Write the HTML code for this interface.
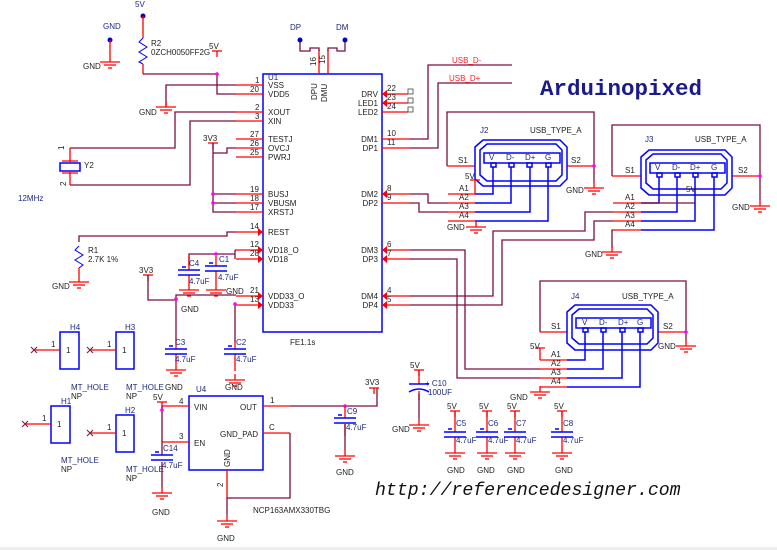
<!DOCTYPE html>
<html><head><meta charset="utf-8"><style>
html,body{margin:0;padding:0;background:#fff;}
svg{display:block;font-family:"Liberation Sans",sans-serif;}
.w{stroke:#7a1040;fill:none;stroke-width:1.3}
.r{stroke:#ff0000;fill:none;stroke-width:1.3}
.b{stroke:#0000ff;fill:none;stroke-width:1.5}
text{font-size:8px;fill:#222}
.bl{fill:#1c2a80}
.rt{fill:#ff2020}
</style></head><body>
<svg width="777" height="550" viewBox="0 0 777 550">
<defs>
<g id="g"><line x1="0" y1="0" x2="0" y2="6" class="r"/><line x1="-10" y1="6" x2="10" y2="6" class="r"/><line x1="-6" y1="9" x2="6" y2="9" class="r"/><line x1="-2" y1="12" x2="2" y2="12" class="r"/></g>
<g id="c"><line x1="-11" y1="0" x2="11" y2="0" class="b"/><line x1="-11" y1="5" x2="11" y2="5" class="b"/><line x1="-7" y1="-3" x2="-3" y2="-3" class="b" stroke-width="1"/></g>
<g id="t"><line x1="-5" y1="0" x2="5" y2="0" class="r"/><line x1="0" y1="0" x2="0" y2="6" class="r"/></g>
</defs>

<!-- U1 -->
<rect x="263" y="74" width="119" height="258" class="b"/>
<g class="r">
<path d="M236 85H263M236 94H263M236 112H263M236 121H263M236 139H263M236 148H263M236 157H263M236 194H263M236 203H263M236 212H263M236 232H263M236 250H263M236 259H263M236 296H263M236 305H263"/>
<path d="M382 94H408M382 103H408M382 112H408M382 139H410M382 148H410M382 194H410M382 203H410M382 250H410M382 259H410M382 296H410M382 305H410"/>
<path d="M319 50V74M328 50V74"/>
</g>
<g fill="#ff0000">
<path d="M263 232l-5 -4v8zM263 250l-5 -4v8zM263 259l-5 -4v8zM263 296l-5 -4v8zM263 305l-5 -4v8z"/>
<path d="M382 94l5 -4v8zM382 103l5 -4v8zM382 194l5 -4v8zM382 250l5 -4v8zM382 259l5 -4v8zM382 296l5 -4v8zM382 305l5 -4v8z"/>
</g>
<g fill="none" stroke="#444" stroke-width="0.8"><rect x="408" y="89" width="5" height="5"/><rect x="408" y="98" width="5" height="5"/><rect x="408" y="107" width="5" height="5"/></g>
<g>
<text x="268" y="88">VSS</text><text x="268" y="97">VDD5</text><text x="268" y="115">XOUT</text><text x="268" y="124">XIN</text>
<text x="268" y="142">TESTJ</text><text x="268" y="151">OVCJ</text><text x="268" y="160">PWRJ</text>
<text x="268" y="197">BUSJ</text><text x="268" y="206">VBUSM</text><text x="268" y="215">XRSTJ</text>
<text x="268" y="235">REST</text><text x="268" y="253">VD18_O</text><text x="268" y="262">VD18</text>
<text x="268" y="299">VDD33_O</text><text x="268" y="308">VDD33</text>
<text x="378" y="97" text-anchor="end">DRV</text><text x="378" y="106" text-anchor="end">LED1</text><text x="378" y="115" text-anchor="end">LED2</text>
<text x="378" y="142" text-anchor="end">DM1</text><text x="378" y="151" text-anchor="end">DP1</text>
<text x="378" y="197" text-anchor="end">DM2</text><text x="378" y="206" text-anchor="end">DP2</text>
<text x="378" y="253" text-anchor="end">DM3</text><text x="378" y="262" text-anchor="end">DP3</text>
<text x="378" y="299" text-anchor="end">DM4</text><text x="378" y="308" text-anchor="end">DP4</text>
<text x="255" y="83">1</text><text x="250" y="92">20</text><text x="255" y="110">2</text><text x="255" y="119">3</text>
<text x="250" y="137">27</text><text x="250" y="146">26</text><text x="250" y="155">25</text>
<text x="250" y="192">19</text><text x="250" y="201">18</text><text x="250" y="210">17</text>
<text x="250" y="229">14</text><text x="250" y="247">12</text><text x="250" y="256">28</text>
<text x="250" y="293">21</text><text x="250" y="302">13</text>
<text x="387" y="91">22</text><text x="387" y="100">23</text><text x="387" y="109">24</text>
<text x="387" y="136">10</text><text x="387" y="145">11</text><text x="387" y="191">8</text><text x="387" y="200">9</text>
<text x="387" y="247">6</text><text x="387" y="256">7</text><text x="387" y="293">4</text><text x="387" y="302">5</text>
<text x="268" y="80" class="bl">U1</text><text x="290" y="345">FE1.1s</text>
<text transform="translate(317,100) rotate(-90)" font-size="8">DPU</text>
<text transform="translate(327,102) rotate(-90)" font-size="8">DMU</text>
<text transform="translate(316,66) rotate(-90)">16</text><text transform="translate(325,64) rotate(-90)">15</text>
</g>
<g class="w"><path d="M300 42V51H310V48H319V51M345 42V51H337V48H328V51"/></g>
<circle cx="300" cy="40" r="2.5" fill="#0000cc"/><circle cx="345" cy="40" r="2.5" fill="#0000cc"/>
<text x="290" y="30" class="bl">DP</text><text x="336" y="30" class="bl">DM</text>

<circle cx="143" cy="16" r="2.5" fill="#0000cc"/><text x="135" y="7" class="bl">5V</text>
<path class="r" d="M143 16V38M143 64V74"/>
<path stroke="#0000ff" fill="none" d="M143 38l-4 4 8 5 -8 5 8 5 -8 5 4 2"/>
<text x="151" y="46">R2</text><text x="151" y="55">0ZCH0050FF2G</text>
<circle cx="110" cy="40" r="2.5" fill="#0000cc"/><text x="103" y="29" class="bl">GND</text>
<path class="r" d="M110 40V56"/><use href="#g" x="110" y="56"/><text x="83" y="69">GND</text>
<path class="w" d="M143 74H217V94H236"/><use href="#t" x="217" y="51"/><text x="209" y="49">5V</text>
<circle cx="217" cy="74" r="1.8" fill="#ff00ff"/>
<path class="w" d="M236 85H166V107"/><use href="#g" x="166" y="101"/><text x="139" y="115">GND</text>
<path class="w" d="M236 112H175V148H70M236 121H190V185H70"/>
<path class="r" d="M70 148V162M70 172V185M62 161H78M62 173H78"/>
<rect x="60" y="163" width="20" height="8" class="b"/>
<text x="84" y="168">Y2</text><text x="18" y="201" class="bl">12MHz</text>
<text transform="translate(64,150) rotate(-90)" font-size="7">1</text><text transform="translate(66,186) rotate(-90)" font-size="7">2</text>
<use href="#t" x="213" y="143"/><text x="203" y="141">3V3</text>
<path class="w" d="M213 143V212H236M213 194H236M213 203H236M213 153H227V148H236"/>
<circle cx="213" cy="194" r="1.8" fill="#ff00ff"/><circle cx="213" cy="203" r="1.8" fill="#ff00ff"/>
<path class="w" d="M236 232H227V236H79V242"/>
<path stroke="#0000ff" fill="none" d="M79 246l-4 4 8 5 -8 5 8 5 -4 3"/>
<path class="r" d="M79 268V276"/><use href="#g" x="79" y="276"/><text x="88" y="253">R1</text><text x="88" y="262">2.7K 1%</text><text x="52" y="289">GND</text>
<path class="w" d="M189 266V254H235V250M235 254V259M235 250H236"/>
<circle cx="216" cy="254" r="1.8" fill="#ff00ff"/>
<path class="r" d="M189 256V270M189 275V284M216 256V266M216 271V284"/>
<use href="#c" x="189" y="270"/><use href="#c" x="216" y="266"/>
<use href="#g" x="189" y="284"/><use href="#g" x="216" y="284"/>
<text x="189" y="266" class="bl">C4</text><text x="219" y="262" class="bl">C1</text>
<text x="189" y="284" class="bl">4.7uF</text><text x="218" y="280" class="bl">4.7uF</text>
<text x="226" y="294">GND</text>
<use href="#t" x="148" y="275"/><text x="139" y="273">3V3</text>
<path class="w" d="M148 275V300H176V295H236M176 300V342M235 305V342"/>
<circle cx="176" cy="299" r="1.8" fill="#ff00ff"/><circle cx="235" cy="304" r="1.8" fill="#ff00ff"/>
<text x="181" y="312">GND</text>
<path class="r" d="M176 342V349M176 354V364M235 342V349M235 354V371"/>
<use href="#c" x="176" y="349"/><use href="#c" x="235" y="349"/>
<use href="#g" x="176" y="364"/><use href="#g" x="235" y="374"/>
<text x="175" y="345" class="bl">C3</text><text x="236" y="345" class="bl">C2</text>
<text x="175" y="362" class="bl">4.7uF</text><text x="236" y="362" class="bl">4.7uF</text>
<text x="165" y="390">GND</text><text x="225" y="390">GND</text>
<g class="b"><rect x="60" y="332" width="19" height="37"/><rect x="116" y="332" width="18" height="37"/><rect x="51" y="406" width="19" height="37"/><rect x="116" y="415" width="18" height="37"/></g>
<path class="r" d="M35 350H60M91 350H116M26 424H51M91 433H116"/>
<g stroke="#7a1040" stroke-width="1"><path d="M31 347l6 6M37 347l-6 6M87 347l6 6M93 347l-6 6M22 421l6 6M28 421l-6 6M87 430l6 6M93 430l-6 6"/></g>
<g>
<text x="66" y="353">1</text><text x="122" y="353">1</text><text x="57" y="427">1</text><text x="122" y="436">1</text>
<text x="51" y="347">1</text><text x="107" y="347">1</text><text x="42" y="421">1</text><text x="107" y="430">1</text>
<text x="70" y="330" class="bl">H4</text><text x="125" y="330" class="bl">H3</text><text x="61" y="404" class="bl">H1</text><text x="125" y="413" class="bl">H2</text>
<text x="71" y="390" class="bl">MT_HOLE</text><text x="71" y="399">NP</text>
<text x="126" y="390" class="bl">MT_HOLE</text><text x="126" y="399">NP</text>
<text x="61" y="463" class="bl">MT_HOLE</text><text x="61" y="472">NP</text>
<text x="126" y="472" class="bl">MT_HOLE</text><text x="126" y="481">NP</text>
</g>
<rect x="189" y="396" width="74" height="74" class="b"/>
<text x="194" y="410">VIN</text><text x="194" y="446">EN</text><text x="240" y="410">OUT</text><text x="220" y="437">GND_PAD</text>
<text transform="translate(230,467) rotate(-90)">GND</text>
<text x="196" y="392" class="bl">U4</text><text x="253" y="513">NCP163AMX330TBG</text>
<text x="179" y="404">4</text><text x="179" y="439">3</text><text x="270" y="403">1</text><text x="269" y="430">C</text>
<text transform="translate(223,487) rotate(-90)">2</text>
<use href="#t" x="162" y="402"/><text x="153" y="400">5V</text>
<path class="r" d="M162 406H189M162 442H189M227 470V498M263 406H290M263 433H290"/>
<path class="w" d="M162 406V455M162 462V487M290 406H377V388M290 433V498H227V515"/>
<circle cx="162" cy="410" r="1.8" fill="#ff00ff"/>
<use href="#c" x="162" y="455"/><use href="#g" x="162" y="487"/><use href="#g" x="227" y="515"/>
<text x="163" y="451" class="bl">C14</text><text x="162" y="468" class="bl">4.7uF</text>
<text x="152" y="515">GND</text><text x="217" y="541">GND</text>
<use href="#t" x="374" y="388"/><text x="365" y="385">3V3</text>
<circle cx="345" cy="406" r="1.8" fill="#ff00ff"/>
<path class="r" d="M345 406V418M345 424V436"/><use href="#c" x="345" y="418"/><use href="#g" x="345" y="450"/>
<path class="w" d="M345 424V450"/>
<text x="347" y="414" class="bl">C9</text><text x="346" y="430" class="bl">4.7uF</text><text x="336" y="475">GND</text>
<use href="#t" x="419" y="370"/><text x="410" y="368">5V</text>
<path class="r" d="M419 370V384M419 391V400"/>
<line x1="409" y1="384" x2="429" y2="384" class="b"/><path d="M409 392Q419 386 429 392" class="b"/>
<path class="w" d="M419 394V419"/><use href="#g" x="419" y="419"/>
<text x="425" y="386" class="bl">+ C10</text><text x="428" y="395" class="bl">100UF</text><text x="392" y="432">GND</text>
<g>
<use href="#t" x="455" y="411"/><use href="#t" x="487" y="411"/><use href="#t" x="515" y="411"/><use href="#t" x="562" y="411"/>
<path class="r" d="M455 411V432M487 411V432M515 411V432M562 411V432M455 437V447M487 437V447M515 437V447M562 437V447"/>
<use href="#c" x="455" y="432"/><use href="#c" x="487" y="432"/><use href="#c" x="515" y="432"/><use href="#c" x="562" y="432"/>
<use href="#g" x="455" y="447"/><use href="#g" x="487" y="447"/><use href="#g" x="515" y="447"/><use href="#g" x="562" y="447"/>
<text x="447" y="409">5V</text><text x="479" y="409">5V</text><text x="507" y="409">5V</text><text x="554" y="409">5V</text>
<text x="456" y="426" class="bl">C5</text><text x="488" y="426" class="bl">C6</text><text x="516" y="426" class="bl">C7</text><text x="563" y="426" class="bl">C8</text>
<text x="456" y="443" class="bl">4.7uF</text><text x="488" y="443" class="bl">4.7uF</text><text x="516" y="443" class="bl">4.7uF</text><text x="563" y="443" class="bl">4.7uF</text>
<text x="447" y="473">GND</text><text x="477" y="473">GND</text><text x="507" y="473">GND</text><text x="555" y="473">GND</text>
</g>
<path class="w" d="M410 139H428V65H512M410 148H438V83H512"/>
<text x="452" y="63" class="rt">USB_D-</text><text x="449" y="81" class="rt">USB_D+</text>
<text x="540" y="95" style="font-family:'Liberation Mono',monospace;font-weight:bold;font-size:22.5px;fill:#1a1a8c">Arduinopixed</text>

<path class="w" d="M447 166V112H594V166M594 166V182"/>
<path class="r" d="M447 166H475M567 166H594M448 194H475M448 203H475M448 212H475M448 221H475"/>
<path class="b" d="M483 140H560L567 147V179L560 186H483L475 179V147Z"/>
<path class="b" d="M487 144H556L562 150V175L556 181H487L480 175V150Z"/>
<rect x="484" y="153" width="76" height="10" class="b" stroke-width="1.2"/>
<g class="b" stroke-width="1"><rect x="491" y="163" width="5" height="4"/><rect x="509" y="163" width="5" height="4"/><rect x="527" y="163" width="5" height="4"/><rect x="546" y="163" width="5" height="4"/></g>
<path class="b" d="M493 167V194H475M511 167V203H475M530 167V212H475M548 167V221H475"/>
<path class="r" d="M475 180V194M470 180H480"/>
<circle cx="594" cy="166" r="1.8" fill="#ff00ff"/><use href="#g" x="594" y="182"/>
<text x="489" y="160" class="bl" font-size="6">V</text><text x="506" y="160" class="bl" font-size="6">D-</text><text x="525" y="160" class="bl" font-size="6">D+</text><text x="545" y="160" class="bl" font-size="6">G</text>
<text x="480" y="133" class="bl">J2</text><text x="530" y="133">USB_TYPE_A</text>
<text x="458" y="163">S1</text><text x="571" y="163">S2</text><text x="465" y="179">5V</text>
<text x="459" y="191">A1</text><text x="459" y="200">A2</text><text x="459" y="209">A3</text><text x="459" y="218">A4</text>
<text x="566" y="193">GND</text><text x="447" y="230">GND</text><use href="#g" x="476" y="221"/>
<path class="w" d="M410 194H428V203H448M410 203H419V212H448"/>

<path class="w" d="M612 176V125H760V176M760 176V200"/>
<path class="r" d="M612 176H641M732 176H760M613 203H641M613 212H641M613 221H641M613 230H641"/>
<path class="b" d="M649 150H725L732 157V188L725 195H649L641 188V157Z"/>
<path class="b" d="M653 154H721L727 160V183L721 189H653L646 183V160Z"/>
<rect x="650" y="163" width="75" height="10" class="b" stroke-width="1.2"/>
<g class="b" stroke-width="1"><rect x="657" y="173" width="5" height="4"/><rect x="675" y="173" width="5" height="4"/><rect x="693" y="173" width="5" height="4"/><rect x="712" y="173" width="5" height="4"/></g>
<path class="b" d="M659 177V203H641M677 177V212H641M695 177V221H641M714 177V230H641"/>
<path class="w" d="M641 203H695"/>
<circle cx="760" cy="176" r="1.8" fill="#ff00ff"/><use href="#g" x="760" y="200"/>
<text x="655" y="170" class="bl" font-size="6">V</text><text x="672" y="170" class="bl" font-size="6">D-</text><text x="690" y="170" class="bl" font-size="6">D+</text><text x="711" y="170" class="bl" font-size="6">G</text>
<text x="645" y="142" class="bl">J3</text><text x="695" y="142">USB_TYPE_A</text>
<text x="625" y="173">S1</text><text x="738" y="173">S2</text><text x="686" y="192">5V</text>
<text x="625" y="200">A1</text><text x="625" y="209">A2</text><text x="625" y="218">A3</text><text x="625" y="227">A4</text>
<text x="732" y="210">GND</text>
<path class="w" d="M613 230H612V248"/><use href="#g" x="612" y="246"/><text x="585" y="257">GND</text>
<path class="w" d="M410 296H493V231H585V212H613M410 305H502V240H594V221H613"/>

<path class="w" d="M540 332V281H686V332M686 332V340"/>
<path class="r" d="M540 332H567M658 332H686M540 360H567M540 369H567M540 378H567M540 387H567"/>
<path class="b" d="M575 305H651L658 312V343L651 350H575L567 343V312Z"/>
<path class="b" d="M579 309H647L653 315V338L647 344H579L572 338V315Z"/>
<rect x="576" y="318" width="75" height="10" class="b" stroke-width="1.2"/>
<g class="b" stroke-width="1"><rect x="583" y="328" width="5" height="4"/><rect x="601" y="328" width="5" height="4"/><rect x="620" y="328" width="5" height="4"/><rect x="638" y="328" width="5" height="4"/></g>
<path class="b" d="M585 332V360H567M603 332V369H567M622 332V378H567M640 332V387H567"/>
<path class="r" d="M540 348V360M535 348H545"/>
<circle cx="686" cy="332" r="1.8" fill="#ff00ff"/><use href="#g" x="686" y="340"/>
<text x="582" y="325" class="bl" font-size="6">V</text><text x="599" y="325" class="bl" font-size="6">D-</text><text x="618" y="325" class="bl" font-size="6">D+</text><text x="637" y="325" class="bl" font-size="6">G</text>
<text x="571" y="299" class="bl">J4</text><text x="622" y="299">USB_TYPE_A</text>
<text x="551" y="329">S1</text><text x="663" y="329">S2</text><text x="530" y="349">5V</text>
<text x="551" y="357">A1</text><text x="551" y="366">A2</text><text x="551" y="375">A3</text><text x="551" y="384">A4</text>
<text x="658" y="349">GND</text>
<use href="#g" x="540" y="386"/><text x="510" y="400">GND</text>
<path class="w" d="M410 250H465V369H540M410 259H457V378H540"/>

<text x="375" y="495" style="font-family:'Liberation Mono',monospace;font-style:italic;font-size:18.2px;fill:#111">http://referencedesigner.com</text>
<rect x="0" y="547" width="777" height="3" fill="#eee"/>
</svg>
</body></html>
